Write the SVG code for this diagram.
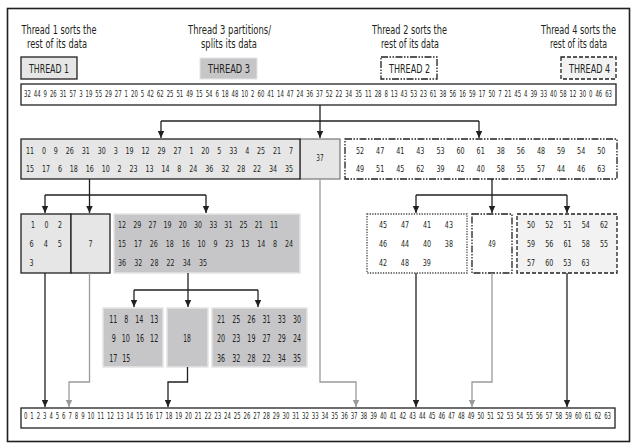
<svg xmlns="http://www.w3.org/2000/svg" width="638" height="448" viewBox="0 0 638 448">
<defs>
<style>
text{font-family:"Liberation Sans Narrow","DejaVu Sans Condensed","Liberation Sans",Arial,sans-serif;fill:#231f20}
.lg{font-size:12px;text-anchor:middle}
.th{font-size:12px;text-anchor:middle}
.n{font-size:9.5px}
.n4{font-size:10.5px}
.s{font-size:8.5px;word-spacing:1.8px}
.c{fill:none;stroke:#231f20;stroke-width:1.3}
.ca{fill:none;stroke:#231f20;stroke-width:1.3;marker-end:url(#ab)}
.ga{fill:none;stroke:#9a9a9a;stroke-width:1.3;marker-end:url(#ag)}
.bw{fill:#fff;stroke:#231f20;stroke-width:1.3}
.lt{fill:#e6e6e6;stroke:#231f20;stroke-width:1.3}
.dk{fill:#c6c6c8;stroke:#e4e4e4;stroke-width:1.5}
.dd{fill:#fff;stroke:#231f20;stroke-width:1.3;stroke-dasharray:7 1.5 1.5 1.5 1.5 1.5}
.ds{fill:#f2f2f2;stroke:#231f20;stroke-width:1.3;stroke-dasharray:4 2}
.dt{fill:#fff;stroke:#444;stroke-width:1.3;stroke-dasharray:1.3 1.3}
</style>
<marker id="ab" markerUnits="userSpaceOnUse" markerWidth="8" markerHeight="8" refX="7" refY="4" orient="auto"><path d="M0,0.8 L7,4 L0,7.2 z" fill="#231f20"/></marker>
<marker id="ag" markerUnits="userSpaceOnUse" markerWidth="8" markerHeight="8" refX="7" refY="4" orient="auto"><path d="M0,0.8 L7,4 L0,7.2 z" fill="#9a9a9a"/></marker>
</defs>
<rect x="0" y="0" width="638" height="448" fill="#fff"/>
<rect x="7.5" y="8.5" width="622" height="433" fill="#fff" stroke="#231f20" stroke-width="1.6"/>

<g id="legend-thread1">
<text class="lg" x="59" y="33.5" textLength="75" lengthAdjust="spacingAndGlyphs">Thread 1 sorts the</text>
<text class="lg" x="57" y="48.3" textLength="60" lengthAdjust="spacingAndGlyphs">rest of its data</text>
<rect class="lt" x="21" y="57" width="56" height="22" stroke-width="1.5"/>
<text class="th" x="49" y="72.5" textLength="40" lengthAdjust="spacingAndGlyphs">THREAD 1</text>
</g>
<g id="legend-thread3">
<text class="lg" x="229.5" y="33.5" textLength="83" lengthAdjust="spacingAndGlyphs">Thread 3 partitions/</text>
<text class="lg" x="229" y="48.3" textLength="56" lengthAdjust="spacingAndGlyphs">splits its data</text>
<rect x="200" y="58" width="57" height="21" fill="#c6c6c8" stroke="#e4e4e4" stroke-width="1"/>
<text class="th" x="229" y="72.5" textLength="42" lengthAdjust="spacingAndGlyphs">THREAD 3</text>
</g>
<g id="legend-thread2">
<text class="lg" x="409.5" y="33.5" textLength="75" lengthAdjust="spacingAndGlyphs">Thread 2 sorts the</text>
<text class="lg" x="410" y="48.3" textLength="58" lengthAdjust="spacingAndGlyphs">rest of its data</text>
<rect class="dd" x="381" y="57" width="56" height="22"/>
<text class="th" x="409.5" y="72.5" textLength="41" lengthAdjust="spacingAndGlyphs">THREAD 2</text>
</g>
<g id="legend-thread4">
<text class="lg" x="578.5" y="33.5" textLength="75" lengthAdjust="spacingAndGlyphs">Thread 4 sorts the</text>
<text class="lg" x="578.5" y="48.3" textLength="57" lengthAdjust="spacingAndGlyphs">rest of its data</text>
<rect class="ds" x="561" y="57" width="55" height="22"/>
<text class="th" x="589.5" y="72.5" textLength="41" lengthAdjust="spacingAndGlyphs">THREAD 4</text>
</g>

<g id="input-row">
<rect class="bw" x="21" y="84" width="595" height="21"/>
<text class="s" x="24" y="97" textLength="588" lengthAdjust="spacingAndGlyphs">32 44 9 26 31 57 3 19 55 29 27 1 20 5 42 62 25 51 49 15 54 6 18 48 10 2 60 41 14 47 24 36 37 52 22 34 35 11 28 8 13 43 53 23 61 38 56 16 59 17 50 7 21 45 4 39 33 40 58 12 30 0 46 63</text>
</g>

<g id="pivot-37">
<rect x="300" y="139" width="40" height="40" fill="#e6e6e6" stroke="#777" stroke-width="1.2"/>
<text class="n" x="316.3" y="160.7" textLength="7.3" lengthAdjust="spacingAndGlyphs">37</text>
</g>
<g id="part-left">
<rect class="lt" x="21" y="139" width="279" height="40"/>
<text class="n" x="26" y="154" textLength="267" lengthAdjust="spacingAndGlyphs" style="word-spacing:7.9px">11 0 9 26 31 30 3 19 12 29 27 1 20 5 33 4 25 21 7</text>
<text class="n" x="26" y="171.7" textLength="267" lengthAdjust="spacingAndGlyphs" style="word-spacing:7.9px">15 17 6 18 16 10 2 23 13 14 8 24 36 32 28 22 34 35</text>
</g>
<g id="part-right">
<rect class="dd" x="345" y="139" width="272" height="40"/>
<text class="n" x="356" y="154.3" textLength="249.3" lengthAdjust="spacingAndGlyphs" style="word-spacing:13.3px">52 47 41 43 53 60 61 38 56 48 59 54 50</text>
<text class="n" x="356" y="171.7" textLength="249.3" lengthAdjust="spacingAndGlyphs" style="word-spacing:13.3px">49 51 45 62 39 42 40 58 55 57 44 46 63</text>
</g>

<g id="sub-0-6">
<rect class="lt" x="21" y="214" width="50" height="59"/>
<text class="n" x="31" y="227.7" textLength="31" lengthAdjust="spacingAndGlyphs" style="word-spacing:10.4px">1 0 2</text>
<text class="n" x="29.5" y="246.7" textLength="32.5" lengthAdjust="spacingAndGlyphs" style="word-spacing:10.4px">6 4 5</text>
<text class="n" x="29.5" y="266" textLength="4" lengthAdjust="spacingAndGlyphs">3</text>
</g>
<g id="pivot-7">
<rect class="lt" x="71" y="214" width="39" height="59"/>
<text class="n" x="88.5" y="246.7" textLength="4" lengthAdjust="spacingAndGlyphs">7</text>
</g>
<g id="sub-8-36">
<rect class="dk" x="114" y="214" width="186" height="59"/>
<text class="n" x="118" y="227.7" textLength="160" lengthAdjust="spacingAndGlyphs" style="word-spacing:6.9px">12 29 27 19 20 30 33 31 25 21 11</text>
<text class="n" x="118" y="246.7" textLength="175" lengthAdjust="spacingAndGlyphs" style="word-spacing:7.8px">15 17 26 18 16 10 9 23 13 14 8 24</text>
<text class="n" x="118" y="266" textLength="89" lengthAdjust="spacingAndGlyphs" style="word-spacing:8.2px">36 32 28 22 34 35</text>
</g>
<g id="sub-38-48">
<rect class="dt" x="367" y="214" width="100" height="59"/>
<text class="n" x="379" y="228" textLength="74" lengthAdjust="spacingAndGlyphs" style="word-spacing:15.8px">45 47 41 43</text>
<text class="n" x="379" y="246.7" textLength="74" lengthAdjust="spacingAndGlyphs" style="word-spacing:15.8px">46 44 40 38</text>
<text class="n" x="379" y="266" textLength="51.8" lengthAdjust="spacingAndGlyphs" style="word-spacing:15.8px">42 48 39</text>
</g>
<g id="pivot-49">
<rect class="dd" x="472" y="214" width="40" height="59"/>
<text class="n" x="488.3" y="246.7" textLength="7.3" lengthAdjust="spacingAndGlyphs">49</text>
</g>
<g id="sub-50-63">
<rect class="ds" x="517" y="214" width="100" height="59"/>
<text class="n" x="527" y="228" textLength="81" lengthAdjust="spacingAndGlyphs" style="word-spacing:10.9px">50 52 51 54 62</text>
<text class="n" x="527" y="246.7" textLength="81" lengthAdjust="spacingAndGlyphs" style="word-spacing:10.9px">59 56 61 58 55</text>
<text class="n" x="527" y="266" textLength="62.5" lengthAdjust="spacingAndGlyphs" style="word-spacing:10.9px">57 60 53 63</text>
</g>

<g id="leaf-8-17">
<rect class="dk" x="103" y="308" width="60" height="59"/>
<text class="n4" x="109.3" y="322.5" textLength="49" lengthAdjust="spacingAndGlyphs" style="word-spacing:7.3px">11 8 14 13</text>
<text class="n4" x="111.7" y="342" textLength="46.6" lengthAdjust="spacingAndGlyphs" style="word-spacing:5.8px">9 10 16 12</text>
<text class="n4" x="109.3" y="361.5" textLength="21" lengthAdjust="spacingAndGlyphs" style="word-spacing:4.4px">17 15</text>
</g>
<g id="pivot-18">
<rect class="dk" x="167" y="308" width="41" height="59"/>
<text class="n4" x="183.3" y="342" textLength="7.6" lengthAdjust="spacingAndGlyphs">18</text>
</g>
<g id="leaf-19-36">
<rect class="dk" x="212" y="308" width="95" height="59"/>
<text class="n4" x="217" y="322.5" textLength="84" lengthAdjust="spacingAndGlyphs" style="word-spacing:7.6px">21 25 26 31 33 30</text>
<text class="n4" x="217" y="342" textLength="84" lengthAdjust="spacingAndGlyphs" style="word-spacing:7.6px">20 23 19 27 29 24</text>
<text class="n4" x="217" y="361.5" textLength="84" lengthAdjust="spacingAndGlyphs" style="word-spacing:7.6px">36 32 28 22 34 35</text>
</g>

<g id="output-row">
<rect class="bw" x="21" y="408" width="594" height="20"/>
<text class="s" x="24" y="419" textLength="587" lengthAdjust="spacingAndGlyphs">0 1 2 3 4 5 6 7 8 9 10 11 12 13 14 15 16 17 18 19 20 21 22 23 24 25 26 27 28 29 30 31 32 33 34 35 36 37 38 39 40 41 42 43 44 45 46 47 48 49 50 51 52 53 54 55 56 57 58 59 60 61 62 63</text>
</g>

<g id="connectors">
<path class="ca" d="M320,105 V138"/>
<path class="c" d="M161,121 H479"/>
<path class="ca" d="M161,121 V138"/>
<path class="ca" d="M479,121 V138"/>
<path class="c" d="M89.5,179 V195 M45,195 H206"/>
<path class="ca" d="M45,195 V213"/>
<path class="ca" d="M89.5,195 V213"/>
<path class="ca" d="M206,195 V213"/>
<path class="c" d="M492,179 V195 M416,195 H567"/>
<path class="ca" d="M416,195 V213"/>
<path class="ca" d="M492,195 V213"/>
<path class="ca" d="M567,195 V213"/>
<path class="c" d="M188,273 V290 M134,290 H258"/>
<path class="ca" d="M134,290 V307"/>
<path class="ca" d="M188,290 V307"/>
<path class="ca" d="M258,290 V307"/>
<path class="ca" d="M45,273 V407"/>
<path class="ga" d="M89.5,273 V382 H69 V407"/>
<path class="ca" d="M187.5,367 V382 H168 V407"/>
<path class="ga" d="M320,179 V382 H356 V407"/>
<path class="ca" d="M416,273 V407"/>
<path class="ga" d="M492,273 V382 H472 V407"/>
<path class="ca" d="M567,273 V407"/>
</g>
</svg>
